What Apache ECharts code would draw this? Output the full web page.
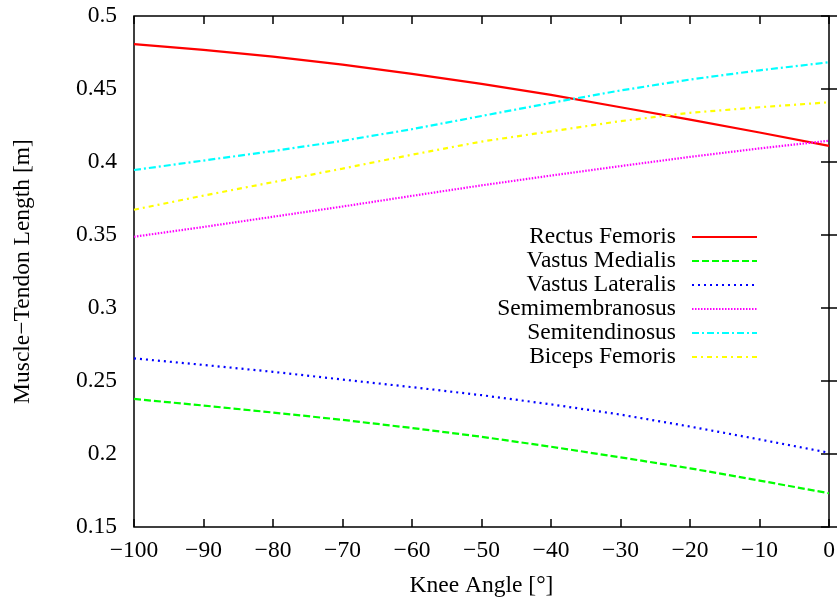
<!DOCTYPE html>
<html>
<head>
<meta charset="utf-8">
<script src="https://cdn.jsdelivr.net/npm/echarts@6/dist/echarts.min.js"></script>
<style>html,body{margin:0;padding:0;background:#fff}#c{width:840px;height:603px}</style>
</head>
<body>
<div id="c"></div>
<script>
const angles = [-100, -90, -80, -70, -60, -50, -40, -30, -20, -10, 0];
const rectusFemoris   = [0.4808, 0.4768, 0.4722, 0.4667, 0.4603, 0.4535, 0.4460, 0.4375, 0.4290, 0.4202, 0.4110];
const vastusMedialis  = [0.2377, 0.2332, 0.2284, 0.2234, 0.2178, 0.2118, 0.2050, 0.1977, 0.1902, 0.1818, 0.1731];
const vastusLateralis = [0.2655, 0.2610, 0.2563, 0.2510, 0.2458, 0.2403, 0.2340, 0.2270, 0.2188, 0.2100, 0.2009];
const semimembranosus = [0.3488, 0.3555, 0.3625, 0.3695, 0.3768, 0.3840, 0.3907, 0.3972, 0.4035, 0.4093, 0.4146];
const semitendinosus  = [0.3945, 0.4010, 0.4075, 0.4145, 0.4225, 0.4315, 0.4405, 0.4490, 0.4565, 0.4628, 0.4683];
const bicepsFemoris   = [0.3673, 0.3770, 0.3862, 0.3955, 0.4050, 0.4140, 0.4210, 0.4280, 0.4337, 0.4375, 0.4409];
const seriesNames = ['Rectus Femoris', 'Vastus Medialis', 'Vastus Lateralis', 'Semimembranosus', 'Semitendinosus', 'Biceps Femoris'];
const xTicks = {min: -100, max: 0, interval: 10};
const yTicks = {min: 0.15, max: 0.5, interval: 0.05};

const font = 'Liberation Serif';
const fs = 23.5;
const styles = [
  {color: '#ff0000', type: 'solid'},
  {color: '#00ff00', type: [7, 3]},
  {color: '#0000ff', type: [2, 4]},
  {color: '#ff00ff', type: [1.5, 1.5]},
  {color: '#00ffff', type: [7, 3, 2, 3]},
  {color: '#ffff00', type: [5, 4, 2, 4]}
];
const allData = [rectusFemoris, vastusMedialis, vastusLateralis, semimembranosus, semitendinosus, bicepsFemoris];
const minus = v => String(v).replace('-', '\u2212');

const chart = echarts.init(document.getElementById('c'), null, {renderer: 'canvas'});
const axisCommon = {
  axisLine: {show: false},
  axisTick: {inside: true, length: 8, lineStyle: {color: '#000', width: 1.5}},
  splitLine: {show: false}
};
chart.setOption({
  animation: false,
  backgroundColor: '#fff',
  textStyle: {fontFamily: font},
  grid: {left: 134, right: 11, top: 16, bottom: 76, show: true, borderColor: '#000', borderWidth: 1.5, backgroundColor: 'transparent'},
  legend: {
    orient: 'vertical', align: 'right', right: 77, top: 220,
    itemWidth: 65, itemHeight: 14, itemGap: 0,
    itemStyle: {opacity: 0},
    data: seriesNames,
    textStyle: {fontFamily: font, fontSize: fs, color: '#000', lineHeight: 24, padding: [0, 11, 0, 0]}
  },
  xAxis: [
    Object.assign({type: 'value', min: xTicks.min, max: xTicks.max, interval: xTicks.interval,
      name: 'Knee Angle [\u00b0]', nameLocation: 'middle', nameGap: 47,
      nameTextStyle: {fontFamily: font, fontSize: fs, color: '#000'},
      axisLabel: {fontFamily: font, fontSize: fs, color: '#000', margin: 12, formatter: minus}}, axisCommon),
    Object.assign({type: 'value', position: 'top', min: xTicks.min, max: xTicks.max, interval: xTicks.interval,
      axisLabel: {show: false}}, axisCommon)
  ],
  yAxis: [
    Object.assign({type: 'value', min: yTicks.min, max: yTicks.max, interval: yTicks.interval,
      name: 'Muscle\u2212Tendon Length [m]', nameLocation: 'middle', nameGap: 99,
      nameTextStyle: {fontFamily: font, fontSize: fs, color: '#000'},
      axisLabel: {fontFamily: font, fontSize: fs, color: '#000', margin: 17,
        formatter: v => String(Math.round(v * 100) / 100)}}, axisCommon),
    Object.assign({type: 'value', position: 'right', min: yTicks.min, max: yTicks.max, interval: yTicks.interval,
      axisLabel: {show: false}}, axisCommon)
  ],
  series: seriesNames.map((n, i) => ({
    name: n, type: 'line', showSymbol: false, symbol: 'none', smooth: false,
    color: styles[i].color,
    lineStyle: {color: styles[i].color, width: 2.2, type: styles[i].type},
    data: angles.map((a, k) => [a, allData[i][k]])
  }))
});
</script>
</body>
</html>
